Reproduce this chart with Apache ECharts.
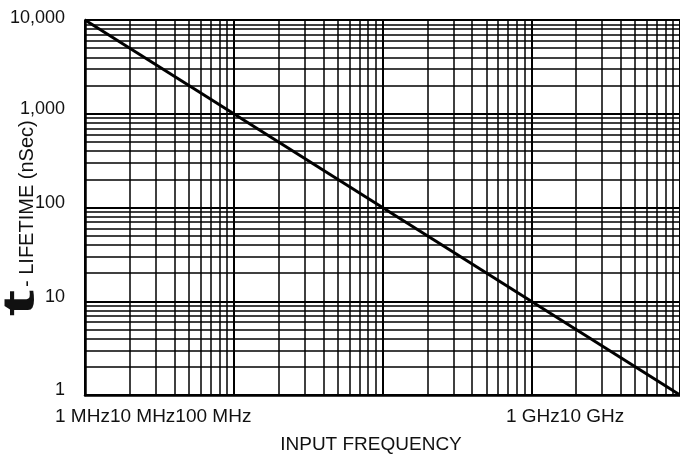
<!DOCTYPE html>
<html>
<head>
<meta charset="utf-8">
<script src="https://cdn.jsdelivr.net/npm/echarts@6/dist/echarts.min.js"></script>
<style>html,body{margin:0;padding:0;background:#fff;}#c{width:680px;height:459px;}</style>
</head>
<body>
<div id="c"></div>
<script>
// Data
const frequencyMHz = [0.1, 1000];
const lifetimeNs = [10000, 1];
const yTickValues = [1, 10, 100, 1000, 10000];
const yTickLabels = ['1', '10', '100', '1,000', '10,000'];
const xTickLabelsLeft = ['1 MHz', '10 MHz', '100 MHz'];
const xTickLabelsRight = ['1 GHz', '10 GHz'];
const xTitle = 'INPUT FREQUENCY';
const yTitleSymbol = 't';
const yTitleText = '- LIFETIME (nSec)';

// minor log gridlines (2..9 of each decade)
function minors(lo, hi) {
  const out = [];
  for (let d = lo; d < hi; d *= 10) {
    for (let k = 2; k <= 9; k++) out.push(+(d * k).toPrecision(6));
  }
  return out;
}
const xMinor = minors(0.1, 1000);
const yMinor = minors(1, 10000);

const FONT = '"Liberation Sans", Arial, Helvetica, sans-serif';
const chart = echarts.init(document.getElementById('c'), null, {renderer: 'canvas'});

const markData = xMinor.map(v => ({xAxis: v})).concat(yMinor.map(v => ({yAxis: v})));

chart.setOption({
  animation: false,
  backgroundColor: '#fff',
  grid: {left: 85, right: 0, top: 20, bottom: 64, containLabel: false},
  xAxis: {
    type: 'log', logBase: 10, min: 0.1, max: 1000,
    axisLine: {show: true, onZero: false, lineStyle: {color: '#000', width: 2.5}},
    axisTick: {show: false},
    axisLabel: {show: false},
    splitLine: {show: true, lineStyle: {color: '#000', width: 2}},
    minorSplitLine: {show: false}
  },
  yAxis: {
    type: 'log', logBase: 10, min: 1, max: 10000,
    axisLine: {show: true, onZero: false, lineStyle: {color: '#000', width: 2.5}},
    axisTick: {show: false},
    axisLabel: {
      show: true, margin: 20, color: '#111',
      fontFamily: FONT, fontSize: 18,
      formatter: function (v) {
        const i = yTickValues.indexOf(Math.round(v));
        const s = i >= 0 ? yTickLabels[i] : '';
        return i === yTickValues.length - 1 ? '{a|' + s + '}' : '{b|' + s + '}';
      },
      rich: {
        a: {fontFamily: FONT, fontSize: 18, color: '#111', padding: [0, 0, 4, 0]},
        b: {fontFamily: FONT, fontSize: 18, color: '#111', padding: [0, 0, 9, 0]}
      }
    },
    splitLine: {show: true, lineStyle: {color: '#000', width: 2}}
  },
  series: [{
    type: 'line',
    data: frequencyMHz.map((f, i) => [f, lifetimeNs[i]]),
    symbol: 'none',
    lineStyle: {color: '#000', width: 3},
    z: 5,
    markLine: {
      silent: true, symbol: 'none', animation: false,
      label: {show: false},
      lineStyle: {color: '#000', type: 'solid', width: 1.5},
      data: markData,
      z: 1
    }
  }],
  graphic: [
    {type: 'text', x: 55, y: 417,
      style: {text: xTickLabelsLeft.join(''), fontSize: 19, fontFamily: FONT, fill: '#111', align: 'left', verticalAlign: 'middle'}},
    {type: 'text', x: 506, y: 417,
      style: {text: xTickLabelsRight.join(''), fontSize: 19, fontFamily: FONT, fill: '#111', align: 'left', verticalAlign: 'middle'}},
    {type: 'text', x: 371, y: 445,
      style: {text: xTitle, fontSize: 19, fontFamily: FONT, fill: '#111', align: 'center', verticalAlign: 'middle'}},
    {type: 'text', x: 37, y: 287, rotation: Math.PI / 2,
      style: {text: yTitleText, fontSize: 20, fontFamily: FONT, fill: '#111', align: 'left', verticalAlign: 'bottom'}},
    {type: 'text', x: 44, y: 303, rotation: Math.PI / 2, scaleX: 1.8, scaleY: 1,
      style: {text: yTitleSymbol, fontSize: 44, fontWeight: 'bold', fontFamily: FONT, fill: '#111', align: 'center', verticalAlign: 'bottom'}}
  ]
});
</script>
</body>
</html>
